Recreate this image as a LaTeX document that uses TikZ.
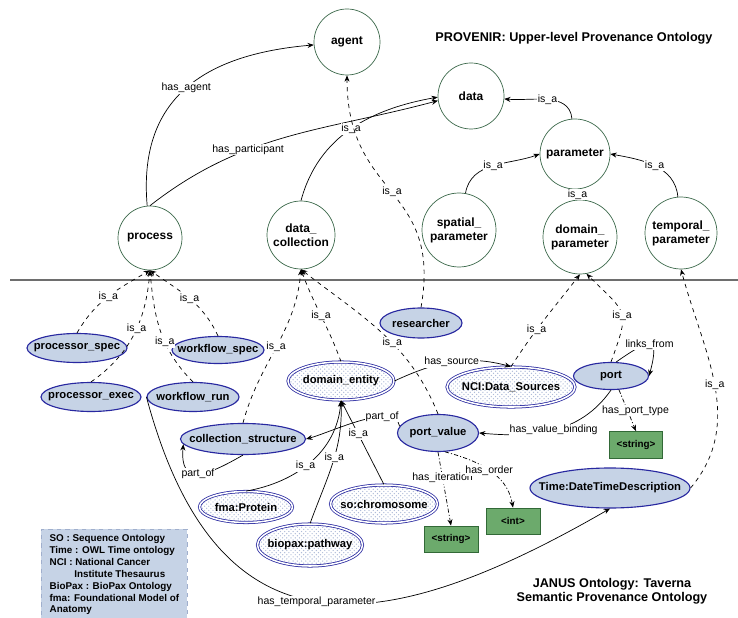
\documentclass[tikz,border=0pt]{standalone}
\usepackage{fontspec}
\setmainfont{Liberation Sans}
\usepackage{tikz}
\usetikzlibrary{positioning, shapes.geometric, arrows.meta, patterns}
\definecolor{conceptline}{RGB}{60,105,75}
\definecolor{classfill}{RGB}{198,211,230}
\definecolor{classline}{RGB}{40,40,160}
\definecolor{dotcolor}{RGB}{175,188,216}
\definecolor{typefill}{RGB}{108,170,108}
\definecolor{typeline}{RGB}{50,105,55}
\definecolor{keyline}{RGB}{160,175,205}
\definecolor{sepline}{RGB}{110,110,110}
\tikzset{
	>={Stealth[length=4.5pt, width=3.6pt]},
	x=0.25mm, y=0.25mm,
	lbl/.append style={
		fill=white,
		inner sep=0.6pt,
		font={\fontsize{7.5}{8}\selectfont}
	},
	concept/.append style={
		circle,
		draw=conceptline,
		fill=white,
		inner sep=0pt,
		align=center,
		font={\fontsize{8.5}{10}\selectfont\bfseries}
	},
	ovalbase/.append style={
		ellipse,
		inner xsep=-30mm,
		inner ysep=-30mm,
		font={\fontsize{8}{9}\selectfont\bfseries}
	},
	janus/.append style={
		ovalbase,
		draw=classline,
		line width=0.8pt,
		fill=classfill
	},
	extclass/.append style={
		ovalbase,
		draw=classline,
		line width=0.55pt,
		double=white,
		double distance=1.1pt,
		pattern=crosshatch dots,
		pattern color=dotcolor
	},
	datatype/.append style={
		rectangle,
		draw=typeline,
		fill=typefill,
		minimum width=13.5mm,
		minimum height=6.5mm,
		font={\fontsize{7}{8}\selectfont\bfseries}
	},
	heading/.append style={
		align=center,
		font={\fontsize{9}{10}\selectfont\bfseries}
	},
	isa/.append style={dashed},
	dashdotline/.append style={dash pattern=on 3pt off 1.5pt on 0.8pt off 1.5pt},
	legendbox/.append style={
		draw=keyline,
		dashed,
		fill=classfill,
		anchor=north west,
		align=left,
		inner sep=1.2mm,
		minimum width=36.5mm,
		minimum height=22mm,
		font={\fontsize{7}{8.5}\selectfont\bfseries}
	}
}

\begin{document}
\begin{tikzpicture}[line width=0.5pt]
		\useasboundingbox (0,0) rectangle (738,-618);
		
		% separator between the two ontologies
		\coordinate(sepleft) at (10,-280);
		\coordinate(sepright) at (738,-280);
		\draw[sepline, line width=0.8pt] (sepleft) -- (sepright);
		
		% PROVENIR
		\node(agent)[concept, minimum size=16.5mm] at (347,-42){agent};
		\node(data)[concept, minimum size=16.5mm] at (471,-96){data};
		\node(parameter)[concept, minimum size=17.5mm] at (575,-154){parameter};
		\node(spatialparam)[concept, minimum size=18.5mm] at (459,-230){spatial\_\\parameter};
		\node(domainparam)[concept, minimum size=18.5mm] at (580,-237){domain\_\\parameter};
		\node(temporalparam)[concept, minimum size=18mm] at (681,-233){temporal\_\\parameter};
		\node(process)[concept, minimum size=16mm] at (150,-238){process};
		\node(datacoll)[concept, minimum size=17mm] at (301,-235){data\_\\collection};
		\node(provenir)[heading] at (574,-38){PROVENIR: Upper-level Provenance Ontology};
		
		% JANUS
		\node(processorspec)[janus, minimum width=25mm, minimum height=7.25mm] at (77,-348){processor\_spec};
		\node(workflowspec)[janus, minimum width=23mm, minimum height=6.75mm] at (218,-350){workflow\_spec};
		\node(processorexec)[janus, minimum width=25mm, minimum height=7.25mm] at (91,-397){processor\_exec};
		\node(workflowrun)[janus, minimum width=23mm, minimum height=7.25mm] at (193,-397){workflow\_run};
		\node(collstruct)[janus, minimum width=31.25mm, minimum height=7.75mm] at (243,-439){collection\_structure};
		\node(researcher)[janus, minimum width=20.5mm, minimum height=7.5mm] at (421,-323){researcher};
		\node(port)[janus, minimum width=18.75mm, minimum height=6.75mm] at (611,-376){port};
		\node(portvalue)[janus, minimum width=20.25mm, minimum height=9.25mm] at (438,-433){port\_value};
		\node(timedesc)[janus, minimum width=40mm, minimum height=10mm] at (610,-488){Time:DateTimeDescription};
		
		\node(domainentity)[extclass, minimum width=26.5mm, minimum height=9.5mm] at (341,-381){domain\_entity};
		\node(ncisources)[extclass, minimum width=32mm, minimum height=10mm] at (511,-387){NCI:Data\_Sources};
		\node(fmaprotein)[extclass, minimum width=23.25mm, minimum height=7.75mm] at (246,-507){fma:Protein};
		\node(sochromosome)[extclass, minimum width=26.75mm, minimum height=9.5mm] at (384,-504){so:chromosome};
		\node(biopax)[extclass, minimum width=26.25mm, minimum height=10.5mm] at (310,-545){biopax:pathway};
		
		\node(porttype)[datatype, minimum width=13.25mm, minimum height=6.75mm] at (636,-445){<string>};
		\node(iterstring)[datatype] at (451,-539){<string>};
		\node(orderint)[datatype] at (513,-521){<int>};
		
		\node(legend)[legendbox] at (41,-529){SO : Sequence Ontology\\Time : OWL Time ontology\\NCI : National Cancer\\\hspace*{6.2mm}Institute Thesaurus\\BioPax : BioPax Ontology\\fma: Foundational Model of\\Anatomy};
		\node(janustitle)[heading] at (612,-591){JANUS Ontology: Taverna\\Semantic Provenance Ontology};
		
		% upper level relations
		\draw[->] (process) to[out=95, in=185, looseness=1.2] node[lbl, pos=0.5] {has\_agent} (agent);
		\draw[->] (process.north) to[out=38, in=195] node[lbl, pos=0.36] {has\_participant} (data.188);
		\draw[->] (datacoll.north) to[out=75, in=190] node[lbl] {is\_a} (data.182);
		\draw[->] (parameter.95) to[out=95, in=-5] node[lbl] {is\_a} (data);
		\draw[->] (spatialparam.80) to[out=80, in=200] node[lbl] {is\_a} (parameter.west);
		\draw[->] (temporalparam) to[out=95, in=-10] node[lbl] {is\_a} (parameter.east);
		\draw[->] (domainparam) -- node[lbl] {is\_a} (parameter);
		\draw[->, isa] (researcher.north) to[out=80, in=-90, looseness=1.3] node[lbl] {is\_a} (agent.south);
		
		% janus is_a links to provenir
		\foreach \src/\o/\i/\p in {processorspec/60/210/0.5, processorexec/35/-95/0.55, workflowrun/135/-85/0.4, workflowspec/115/-35/0.5}{
			\draw[->, isa] (\src.north) to[out=\o, in=\i] node[lbl, pos=\p] {is\_a} (process.south);
		};
		\foreach \src/\o/\i/\p in {collstruct/75/-95/0.5, domainentity/110/-70/0.5, portvalue/112/-38/0.42}{
			\draw[->, isa] (\src.north) to[out=\o, in=\i] node[lbl, pos=\p] {is\_a} (datacoll.south);
		};
		\draw[->, isa] (ncisources.north) to[out=57, in=-128] node[lbl, pos=0.38] {is\_a} (domainparam.south);
		\draw[->, isa] (port.north) to[out=70, in=-45, looseness=1.6] node[lbl, pos=0.45] {is\_a} (domainparam.-80);
		\draw[->, isa] (timedesc.east) to[out=50, in=-75] node[lbl] {is\_a} (temporalparam.south);
		
		% janus relations
		\draw[->] (port.70) to[out=35, in=75, looseness=3] node[lbl] {links\_from} (port.east);
		\draw[->, dashdotline] (port.-60) -- node[lbl, xshift=2mm] {has\_port\_type} (porttype.north);
		\draw[->] (port.south) to[out=-125, in=-5] node[lbl] {has\_value\_binding} (portvalue.east);
		\draw[->] (domainentity.east) to[out=25, in=165] node[lbl] {has\_source} (ncisources.north);
		\draw[->] (portvalue.170) to[out=100, in=15, looseness=0.7] node[lbl, pos=0.3] {part\_of} (collstruct.east);
		\draw[->] (collstruct.south) to[out=-150, in=-95, looseness=1.8] node[lbl] {part\_of} (collstruct.185);
		\draw[->] (fmaprotein.north) to[out=10, in=-95] node[lbl, pos=0.45] {is\_a} (domainentity.south);
		\draw[->] (biopax.north) to[out=70, in=-88] node[lbl, pos=0.55] {is\_a} (domainentity.south);
		\draw[->] (sochromosome.north) -- node[lbl, pos=0.6] {is\_a} (domainentity.south);
		\draw[->, dashdotline] (portvalue.south) -- node[lbl, pos=0.35] {has\_iteration} (iterstring.north);
		\draw[->, dashdotline] (portvalue.-70) to[out=-15, in=100] node[lbl] {has\_order} (orderint.north);
		\draw[->] (workflowrun.west) to[out=-75, in=-150, looseness=1.45] node[lbl] {has\_temporal\_parameter} (timedesc.south);
		
\end{tikzpicture}
\end{document}
